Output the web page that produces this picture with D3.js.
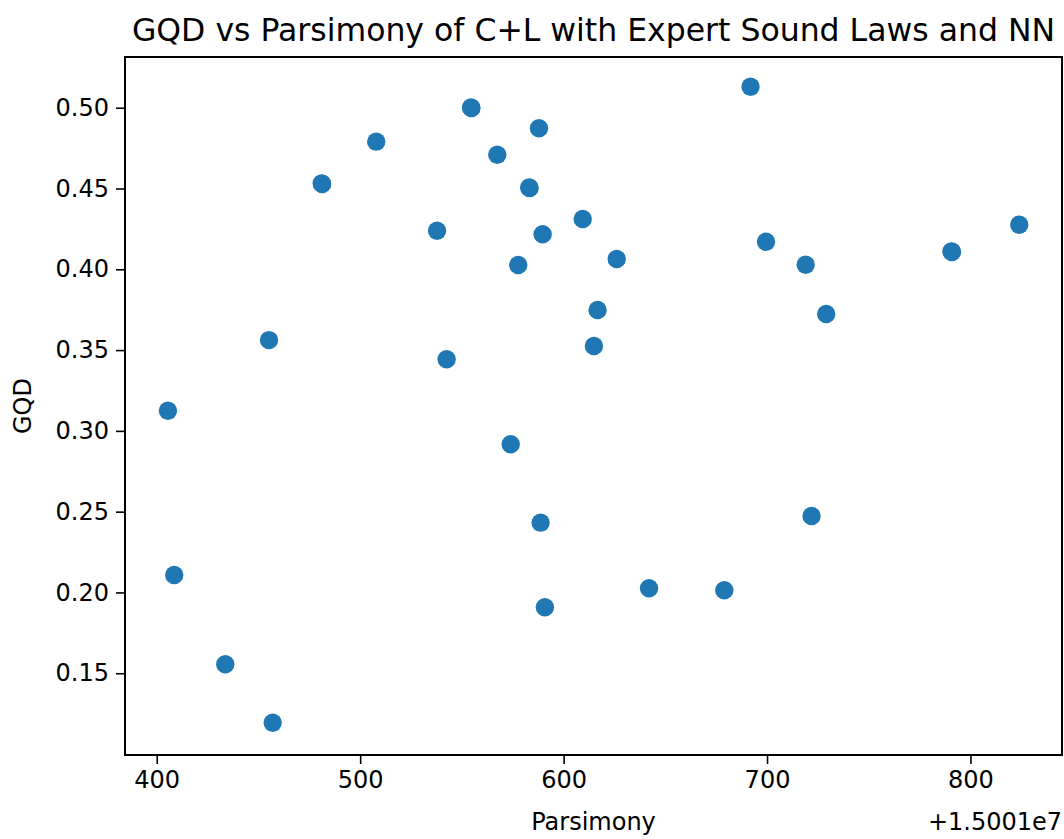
<!DOCTYPE html>
<html>
<head>
<meta charset="utf-8">
<script src="https://cdn.jsdelivr.net/npm/d3@7"></script>
<style>
  body { margin: 0; background: #fff; }
  svg { display: block; font-family: "DejaVu Sans", sans-serif; }
</style>
</head>
<body>
<div id="chart"></div>
<script>
// parsimony values are shown relative to the offset 1.5001e7
const parsimony = [405.5, 408.6, 433.7, 457.0, 455.2, 481.1, 481.3, 507.9, 537.8, 542.5,
  554.5, 554.7, 567.4, 587.9, 583.1, 583.3, 577.7, 589.7, 609.4, 574.0, 588.7, 590.8,
  616.7, 614.9, 626.1, 642.0, 679.0, 691.9, 699.5, 719.0, 721.9, 729.1, 790.7, 790.9, 824.0];
const gqd = [0.3125, 0.2108, 0.1556, 0.1194, 0.3562, 0.4532, 0.4528, 0.4790, 0.4239, 0.3443,
  0.5002, 0.4998, 0.4709, 0.4873, 0.4507, 0.4503, 0.4027, 0.4217, 0.4311, 0.2917, 0.2432, 0.1908,
  0.3748, 0.3525, 0.4064, 0.2026, 0.2014, 0.5130, 0.4171, 0.4028, 0.2473, 0.3723, 0.4111, 0.4107, 0.4276];
const xLimits = [384.4, 845.0];
const yLimits = [0.0994, 0.5314];
const xTicks = [400, 500, 600, 700, 800];
const yTicks = [0.15, 0.20, 0.25, 0.30, 0.35, 0.40, 0.45, 0.50];

const width = 1064, height = 839;
const margin = {top: 57, right: 2, bottom: 84, left: 125};

const svg = d3.select("#chart").append("svg")
    .attr("width", width)
    .attr("height", height);

const x = d3.scaleLinear().domain(xLimits).range([margin.left, width - margin.right]);
const y = d3.scaleLinear().domain(yLimits).range([height - margin.bottom, margin.top]);

const data = parsimony.map(function(p, i) { return {p: p, g: gqd[i]}; });

// dots
svg.append("g")
  .selectAll("circle")
  .data(data)
  .enter()
  .append("circle")
    .attr("cx", function(d) { return x(d.p); })
    .attr("cy", function(d) { return y(d.g); })
    .attr("r", 9.2)
    .style("fill", "#1f77b4");

// axes
const xAxis = svg.append("g")
    .attr("transform", "translate(0," + (height - margin.bottom) + ")")
    .call(d3.axisBottom(x).tickValues(xTicks).tickFormat(d3.format("d")).tickSizeInner(9).tickSizeOuter(0).tickPadding(7));
const yAxis = svg.append("g")
    .attr("transform", "translate(" + margin.left + ",0)")
    .call(d3.axisLeft(y).tickValues(yTicks).tickFormat(d3.format(".2f")).tickSizeInner(9).tickSizeOuter(0).tickPadding(7));

[xAxis, yAxis].forEach(function(a) {
  a.select(".domain").remove();
  a.selectAll("line").attr("stroke", "#000").attr("stroke-width", 1.6);
  a.selectAll("text").attr("fill", "#000").style("font-size", "24px").style("font-family", "DejaVu Sans");
});

// frame
svg.append("rect")
    .attr("x", margin.left)
    .attr("y", margin.top)
    .attr("width", width - margin.left - margin.right)
    .attr("height", height - margin.bottom - margin.top)
    .attr("fill", "none")
    .attr("stroke", "#000")
    .attr("stroke-width", 2);

// labels
svg.append("text")
    .attr("x", (margin.left + width - margin.right) / 2)
    .attr("y", 41)
    .attr("text-anchor", "middle")
    .style("font-size", "31.5px")
    .text("GQD vs Parsimony of C+L with Expert Sound Laws and NN");

svg.append("text")
    .attr("x", (margin.left + width - margin.right) / 2)
    .attr("y", 830)
    .attr("text-anchor", "middle")
    .style("font-size", "24px")
    .text("Parsimony");

svg.append("text")
    .attr("x", width - margin.right)
    .attr("y", 830)
    .attr("text-anchor", "end")
    .style("font-size", "24px")
    .text("+1.5001e7");

svg.append("text")
    .attr("transform", "translate(31," + y(0.3154) + ") rotate(-90)")
    .attr("text-anchor", "middle")
    .style("font-size", "24px")
    .text("GQD");
</script>
</body>
</html>
